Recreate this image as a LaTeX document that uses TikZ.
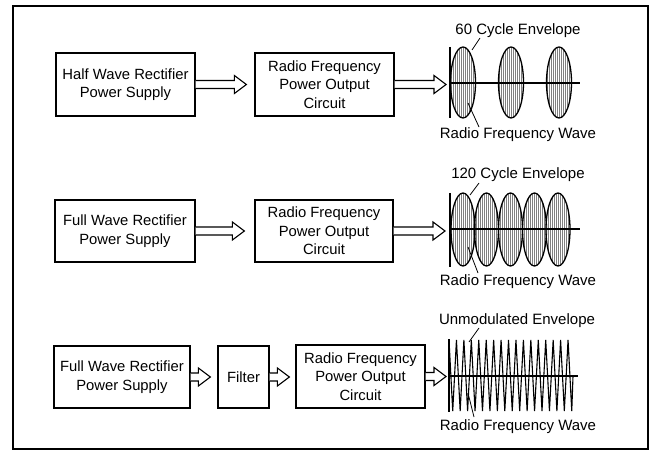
\documentclass[tikz,border=0pt]{standalone}
\usepackage{fontspec}
\setmainfont{Liberation Sans}
\usetikzlibrary{calc}
\tikzset{
  blk/.style={draw, line width=1.2bp, inner sep=0pt, align=center, font=\fontsize{14.8bp}{18.5bp}\selectfont},
  harrow/.style={draw, line width=1.1bp, fill=white, line join=miter},
  lbl/.style={inner sep=0pt, font=\fontsize{15bp}{18bp}\selectfont},
  leader/.style={line width=0.8bp},
  env/.style={line width=1.3bp},
  axisline/.style={line width=1.4bp},
  hatch/.style={line width=0.6bp, black!50},
}
\newcommand{\hollowarr}[3]{%
  \path[harrow] let \p1=(#1), \p2=(#2) in
    (\x1,\y1+4bp) -- (\x2-#3bp-12bp,\y1+4bp) -- (\x2-#3bp-12bp,\y1+9bp) -- (\x2-#3bp,\y1)
    -- (\x2-#3bp-12bp,\y1-9bp) -- (\x2-#3bp-12bp,\y1-4bp) -- (\x1,\y1-4bp);}
\begin{document}
\begin{tikzpicture}[x=1bp,y=-1bp]
\useasboundingbox (0,0) rectangle (650,453);
\draw[line width=1.4bp] (13,6) rectangle (648,449);

% ---------- Row 1 ----------
\node[blk, minimum width=139bp, minimum height=63bp] (hw1) at (125.5,84.5) {Half Wave Rectifier\\Power Supply};
\node[blk, minimum width=139bp, minimum height=63bp] (rf1) at (324.5,84.5) {Radio Frequency\\Power Output\\Circuit};
\coordinate (w1) at (450,83);
\hollowarr{hw1.east}{rf1.west}{8}
\hollowarr{rf1.east}{w1}{4}
\foreach \cx in {463,511,559}{
  \begin{scope}
    \clip (\cx,82.5) ellipse (12.5 and 35.5);
    \foreach \d in {-12,-10,...,12} \draw[hatch] (\cx+\d,45) -- (\cx+\d,120);
  \end{scope}
  \draw[env] (\cx,82.5) ellipse (12.5 and 35.5);
}
\draw[axisline] (450,47) -- (450,118);
\draw[axisline] (w1) -- (580,83);
\node[lbl] (e1) at (518,31) {60 Cycle Envelope};
\node[lbl] (r1) at (518,135) {Radio Frequency Wave};
\coordinate (e1a) at (480,38); \coordinate (e1b) at (472,50);
\coordinate (r1a) at (479,127); \coordinate (r1b) at (468,103);
\draw[leader] (e1a) -- (e1b);
\draw[leader] (r1a) -- (r1b);

% ---------- Row 2 ----------
\node[blk, minimum width=140bp, minimum height=62bp] (fw2) at (125,231) {Full Wave Rectifier\\Power Supply};
\node[blk, minimum width=138bp, minimum height=62bp] (rf2) at (324,231) {Radio Frequency\\Power Output\\Circuit};
\coordinate (w2) at (450,229);
\hollowarr{fw2.east}{rf2.west}{10}
\hollowarr{rf2.east}{w2}{5}
\foreach \cx in {463,486.5,510.5,534.5,558}{
  \begin{scope}
    \clip (\cx,229.5) ellipse (12 and 36.5);
    \foreach \d in {-12,-10,...,12} \draw[hatch] (\cx+\d,190) -- (\cx+\d,270);
  \end{scope}
  \draw[env] (\cx,229.5) ellipse (12 and 36.5);
}
\draw[axisline] (450,193) -- (450,267);
\draw[axisline] (w2) -- (580,229);
\node[lbl] (e2) at (518,175) {120 Cycle Envelope};
\node[lbl] (r2) at (518,282) {Radio Frequency Wave};
\coordinate (e2a) at (479,183); \coordinate (e2b) at (470,195);
\coordinate (r2a) at (478,273); \coordinate (r2b) at (468,247);
\draw[leader] (e2a) -- (e2b);
\draw[leader] (r2a) -- (r2b);

% ---------- Row 3 ----------
\node[blk, minimum width=136bp, minimum height=62bp] (fw3) at (122,377) {Full Wave Rectifier\\Power Supply};
\node[blk, minimum width=51bp, minimum height=62bp] (fl3) at (243.5,377) {Filter};
\node[blk, minimum width=129bp, minimum height=63bp] (rf3) at (360.5,376.5) {Radio Frequency\\Power Output\\Circuit};
\coordinate (w3) at (449,376);
\hollowarr{fw3.east}{fl3.west}{7}
\hollowarr{fl3.east}{rf3.west}{6}
\hollowarr{rf3.east}{w3}{3}
\draw[line width=1.1bp, line join=miter]
  (449,376) \foreach \k in {0,...,16} { -- (449+7.44*\k,340) -- (449+7.44*\k+3.72,411) } -- (573,376);
\draw[axisline] (449,339) -- (449,412);
\draw[axisline] (w3) -- (578,376);
\node[lbl] (e3) at (517,321) {Unmodulated Envelope};
\node[lbl] (r3) at (518,427) {Radio Frequency Wave};
\coordinate (e3a) at (479,328); \coordinate (e3b) at (469,342);
\coordinate (r3a) at (474,417); \coordinate (r3b) at (468,393);
\draw[leader] (e3a) -- (e3b);
\draw[leader] (r3a) -- (r3b);
\end{tikzpicture}
\end{document}
